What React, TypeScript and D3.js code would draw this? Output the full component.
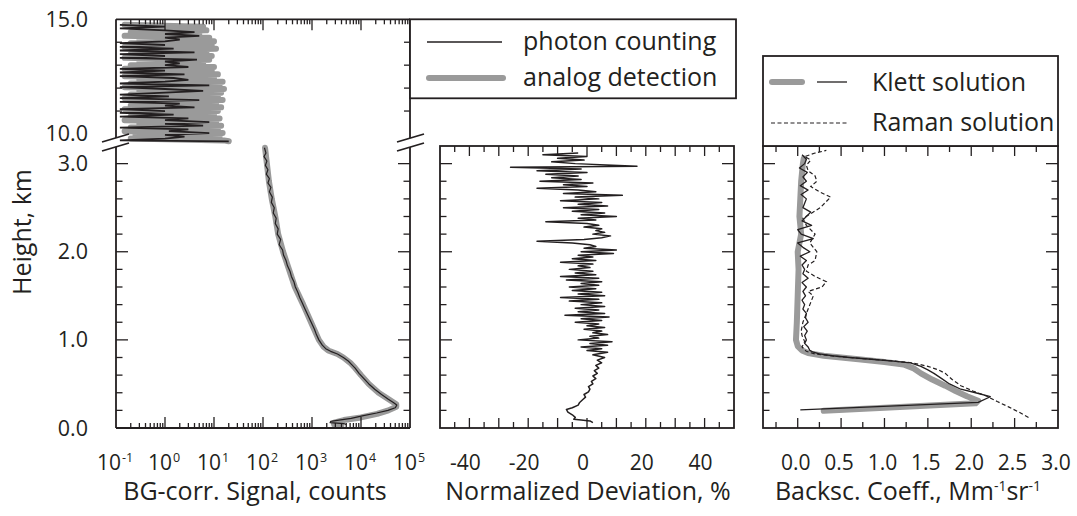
import React from 'react';
import * as d3 from 'd3';

const INK = '#231f20';
const GRAY = '#9a9a9a';
const FONT = '"Open Sans", "Noto Sans", sans-serif';

// ---------- Panel 1: background-corrected signal (counts) ----------
// upper part (9.7 - 15 km), heights in km
const UPPER_H = [14.76, 14.68, 14.6, 14.52, 14.44, 14.36, 14.28, 14.2, 14.12, 14.04, 13.96, 13.88, 13.8, 13.72, 13.64, 13.56, 13.48, 13.4, 13.32, 13.24, 13.16, 13.08, 13.0, 12.92, 12.84, 12.76, 12.68, 12.6, 12.52, 12.44, 12.36, 12.28, 12.2, 12.12, 12.04, 11.96, 11.88, 11.8, 11.72, 11.64, 11.56, 11.48, 11.4, 11.32, 11.24, 11.16, 11.08, 11.0, 10.92, 10.84, 10.76, 10.68, 10.6, 10.52, 10.44, 10.36, 10.28, 10.2, 10.12, 10.04, 9.96, 9.88, 9.8, 9.72, 9.68];
const UPPER_PHOTON = [0.12, 1, 0.12, 1, 4, 1, 5, 1, 2, 1, 0.12, 1, 0.12, 1.5, 0.12, 4, 0.12, 1, 0.12, 4.5, 1, 2, 1, 3, 0.12, 1, 0.12, 2.5, 0.12, 1.5, 3, 1, 0.12, 8, 0.12, 1, 6, 1, 0.12, 1.2, 0.12, 5, 0.12, 2, 1, 4, 0.12, 1, 0.12, 1.5, 0.12, 3, 1, 8, 1, 6, 0.12, 3, 1.2, 8, 1, 2.5, 1, 0.12, 20];
const UPPER_ANALOG = [0.15, 6, 0.3, 7, 0.2, 5, 0.15, 8, 0.3, 10, 0.2, 9, 0.15, 11, 0.3, 7, 0.2, 9, 0.15, 8, 0.3, 6, 0.2, 10, 0.15, 9, 0.25, 12, 0.15, 10, 0.3, 15, 0.2, 13, 0.15, 16, 0.3, 14, 0.2, 12, 0.15, 15, 0.25, 11, 0.2, 14, 0.15, 12, 0.3, 10, 0.2, 13, 0.15, 11, 0.3, 14, 0.2, 12, 0.15, 15, 0.25, 13, 0.2, 16, 20];

// lower part (0 - 3.2 km)
const LOWER_PHOTON_H = [3.18, 3.12, 3.08, 3.03, 2.98, 2.93, 2.88, 2.83, 2.78, 2.73, 2.68, 2.62, 2.56, 2.5, 2.44, 2.38, 2.32, 2.26, 2.2, 2.14, 2.08, 2.02, 1.96, 1.9, 1.84, 1.78, 1.72, 1.66, 1.6, 1.54, 1.48, 1.42, 1.36, 1.3, 1.24, 1.18, 1.12, 1.06, 1.0, 0.94, 0.9, 0.87, 0.84, 0.8, 0.76, 0.72, 0.68, 0.62, 0.56, 0.5, 0.44, 0.38, 0.33, 0.29, 0.26, 0.23, 0.2, 0.17, 0.14, 0.11, 0.09, 0.075, 0.06, 0.05, 0.04];
const LOWER_PHOTON = [107, 115, 105, 120, 112, 126, 117, 135, 126, 145, 135, 155, 148, 170, 162, 186, 178, 204, 195, 229, 214, 251, 263, 295, 316, 355, 380, 427, 457, 513, 562, 631, 708, 794, 891, 1000, 1122, 1230, 1380, 1622, 1905, 2399, 3311, 4365, 5495, 6457, 7586, 9120, 11480, 14450, 19050, 26300, 35480, 45710, 53700, 50100, 35480, 20900, 11220, 6310, 3550, 2400, 2340, 4470, 5010];
const LOWER_ANALOG_H = [3.18, 3.0, 2.8, 2.6, 2.4, 2.2, 2.0, 1.8, 1.6, 1.4, 1.2, 1.0, 0.92, 0.88, 0.84, 0.8, 0.74, 0.68, 0.6, 0.5, 0.4, 0.32, 0.27, 0.24, 0.2, 0.16, 0.12, 0.09, 0.06, 0.04, 0.025];
const LOWER_ANALOG = [110, 120, 132, 151, 178, 204, 257, 339, 447, 661, 955, 1380, 1740, 2140, 3310, 4370, 6030, 7590, 10000, 14450, 22900, 38000, 52500, 52500, 36300, 21400, 10000, 4470, 2820, 2820, 3980];

// ---------- Panel 2: normalized deviation (%) ----------
const DEV_H = [0.06, 0.08, 0.09, 0.1, 0.12, 0.15, 0.18, 0.21, 0.23, 0.26, 0.29, 0.32, 0.35, 0.38, 0.41, 0.44, 0.47, 0.5, 0.53, 0.56, 0.59, 0.62, 0.65, 0.68, 0.71, 0.74, 0.77, 0.8, 0.83, 0.86, 0.88, 0.9, 0.92, 0.94, 0.96, 0.98, 1.0, 1.02, 1.04, 1.06, 1.08, 1.1, 1.12, 1.14, 1.16, 1.18, 1.2, 1.22, 1.24, 1.26, 1.28, 1.3, 1.32, 1.34, 1.36, 1.38, 1.4, 1.42, 1.44, 1.46, 1.48, 1.5, 1.52, 1.54, 1.56, 1.58, 1.6, 1.62, 1.64, 1.66, 1.68, 1.7, 1.72, 1.74, 1.76, 1.78, 1.8, 1.82, 1.84, 1.86, 1.88, 1.9, 1.92, 1.94, 1.96, 1.98, 2.0, 2.02, 2.04, 2.06, 2.08, 2.1, 2.12, 2.14, 2.16, 2.18, 2.2, 2.22, 2.24, 2.26, 2.28, 2.3, 2.32, 2.34, 2.36, 2.38, 2.4, 2.42, 2.44, 2.46, 2.48, 2.5, 2.52, 2.54, 2.56, 2.58, 2.6, 2.62, 2.64, 2.66, 2.68, 2.7, 2.72, 2.74, 2.76, 2.78, 2.8, 2.82, 2.84, 2.86, 2.88, 2.9, 2.92, 2.94, 2.96, 2.97, 3.0, 3.02, 3.04, 3.06, 3.08, 3.1, 3.12];
const DEV_VAL = [2, 1, -2, -4.5, -4, -5, -6.5, -7, -5, -3, -2.5, -1.5, -0.5, -1, 0.5, 1, 0.5, 2, 1.5, 3, 2, 3.5, 2.5, 4, 3, 5, 3.5, 6, 2, 7, 0, 5, -2, 7, 1, 8.5, -3, 4, 1, 7, 2, 5, -1, 6, 0, 4, -4, 5, -2, 7.5, -7.5, 6, -3, 4, -4, 6, -2, 5, -6, 4, -9, 6, -3, 5, -5, 3, -6, 4, -2, 5, -7, 4, -9, 3, -4, 2, -6, 1, -3, 2, -9, 3, -5, 2, -3, 9, -2, 10, -1, 3, 1, -5, -17, -1, 5, 8, 2, 6, 3, 5, -1, 4, 0, -14, 3, -3, 10, -2, 6, -5, 4, -8, 7, -3, 5, -9, 4, -4, 12, -8, 3, -3, -17, 0, -8, 2, -16, -2, -12, -3, -14, 0, -17, -2, -26, 17, -4, -12, -1, -10, 0, -15, -3];

// ---------- Panel 3: backscatter coefficient (Mm^-1 sr^-1) ----------
const KLETT_AN_H = [0.195, 0.28, 0.31, 0.36, 0.42, 0.48, 0.55, 0.62, 0.68, 0.72, 0.75, 0.78, 0.8, 0.82, 0.85, 0.88, 0.93, 1.0, 1.2, 1.5, 1.8, 2.0, 2.2, 2.4, 2.6, 2.8, 3.0, 3.06];
const KLETT_AN = [0.3, 2.05, 2.08, 1.95, 1.82, 1.7, 1.55, 1.42, 1.33, 1.22, 1.0, 0.7, 0.5, 0.3, 0.12, 0.05, 0.0, -0.02, -0.01, 0.0, 0.01, 0.0, 0.04, 0.02, 0.03, 0.04, 0.06, 0.07];
const KLETT_PC_H = [0.205, 0.29, 0.355, 0.4, 0.44, 0.5, 0.56, 0.62, 0.66, 0.7, 0.74, 0.76, 0.78, 0.8, 0.82, 0.84, 0.86, 0.88, 0.92, 0.96, 1.0, 1.05, 1.1, 1.15, 1.2, 1.25, 1.3, 1.35, 1.4, 1.45, 1.5, 1.55, 1.6, 1.65, 1.7, 1.75, 1.8, 1.85, 1.9, 1.95, 2.0, 2.05, 2.1, 2.15, 2.2, 2.25, 2.3, 2.35, 2.4, 2.45, 2.5, 2.55, 2.6, 2.65, 2.7, 2.75, 2.8, 2.85, 2.9, 2.95, 3.0, 3.05, 3.1];
const KLETT_PC = [0.03, 2.08, 2.22, 2.05, 1.88, 1.75, 1.66, 1.57, 1.5, 1.42, 1.3, 1.1, 0.85, 0.6, 0.4, 0.25, 0.18, 0.14, 0.12, 0.08, 0.1, 0.08, 0.11, 0.07, 0.12, 0.09, 0.1, 0.06, 0.08, 0.05, 0.09, 0.06, 0.1, 0.05, 0.12, 0.06, 0.08, 0.05, 0.1, 0.03, 0.14, 0.06, 0.0, 0.18, 0.04, 0.0, 0.16, 0.05, 0.1, 0.15, 0.06, 0.08, 0.1, 0.04, 0.12, 0.03, 0.1, 0.06, 0.11, 0.02, 0.08, 0.1, 0.05];
const RAMAN_H = [0.12, 0.18, 0.24, 0.3, 0.36, 0.42, 0.48, 0.55, 0.62, 0.66, 0.7, 0.74, 0.76, 0.78, 0.8, 0.82, 0.84, 0.87, 0.92, 0.98, 1.05, 1.1, 1.2, 1.3, 1.4, 1.5, 1.55, 1.6, 1.66, 1.72, 1.78, 1.85, 1.9, 2.0, 2.1, 2.2, 2.3, 2.38, 2.45, 2.5, 2.56, 2.62, 2.68, 2.74, 2.8, 2.86, 2.92, 2.98, 3.04, 3.08, 3.12, 3.15];
const RAMAN = [2.66, 2.55, 2.43, 2.3, 2.18, 2.02, 1.88, 1.78, 1.7, 1.62, 1.5, 1.32, 1.1, 0.85, 0.6, 0.38, 0.2, 0.1, 0.05, 0.08, 0.05, 0.04, 0.06, 0.1, 0.14, 0.18, 0.12, 0.28, 0.33, 0.2, 0.1, 0.12, 0.2, 0.22, 0.14, 0.2, 0.1, 0.06, 0.18, 0.26, 0.32, 0.38, 0.25, 0.15, 0.22, 0.2, 0.12, 0.1, 0.15, 0.08, 0.2, 0.33];

// ---------- tick labels ----------
const SIG_EXP = [-1, 0, 1, 2, 3, 4, 5];
const DEV_TICKS = [-40, -20, 0, 20, 40];
const BETA_TICKS = [0, 0.5, 1.0, 1.5, 2.0, 2.5, 3.0];
const H_LOW_LABELS = [0, 1, 2, 3];
const H_UP_LABELS = [10, 15];

const zip = (h: number[], v: number[]) => h.map((hh, i) => [hh, v[i]] as [number, number]).filter((d) => d[1] !== undefined);

export default function App() {
  const xSig = d3.scaleLog().domain([0.1, 1e5]).range([116, 410]);
  const yLow = d3.scaleLinear().domain([0, 3.2]).range([428, 146]);
  const yUp = d3.scaleLinear().domain([9.65, 15]).range([142, 19.3]);
  const xDev = d3.scaleLinear().domain([-50, 50]).range([440, 734]);
  const xBeta = d3.scaleLinear().domain([-0.4, 3.0]).range([763, 1058]);

  const sigLineLow = d3.line<[number, number]>().x((d) => xSig(d[1])).y((d) => yLow(d[0]));
  const sigLineUp = d3.line<[number, number]>().x((d) => xSig(d[1])).y((d) => yUp(d[0]));
  const devLine = d3.line<[number, number]>().x((d) => xDev(d[1])).y((d) => yLow(d[0]));
  const betaLine = d3.line<[number, number]>().x((d) => xBeta(d[1])).y((d) => yLow(d[0]));

  const fw = 1.8;
  const tw = 1.3;
  const P = { l1: 116, r1: 410, l2: 440, r2: 734, l3: 763, r3: 1058, top: 146, bot: 428, top1: 19.3 };

  const ticks: JSX.Element[] = [];
  let k = 0;
  const tick = (x1: number, y1: number, x2: number, y2: number) => {
    ticks.push(<line key={'t' + k++} x1={x1} y1={y1} x2={x2} y2={y2} stroke={INK} strokeWidth={tw} />);
  };

  // panel 1 log ticks (top and bottom)
  for (let e = -1; e <= 4; e++) {
    for (let m = 1; m <= 9; m++) {
      const v = m * Math.pow(10, e);
      if (v <= 0.1 || v >= 1e5) continue;
      const x = xSig(v);
      const len = m === 1 ? 11 : 5;
      tick(x, P.bot, x, P.bot - len);
      tick(x, P.top1, x, P.top1 + len);
    }
  }
  // height ticks for lower part (all panels)
  const hTicks = d3.range(0, 3.21, 0.2).map((v) => Math.round(v * 10) / 10);
  hTicks.forEach((h) => {
    if (h === 0) return;
    const y = yLow(h);
    const len = Math.abs(h - Math.round(h)) < 1e-6 ? 12 : 6.5;
    if (h <= 3.0) {
      [[P.l1, P.r1], [P.l2, P.r2], [P.l3, P.r3]].forEach(([l, r]) => {
        tick(l, y, l + len, y);
        tick(r, y, r - len, y);
      });
    }
  });
  // upper part ticks
  [11, 12, 13, 14].forEach((h) => {
    const y = yUp(h);
    tick(P.l1, y, P.l1 + 6, y);
    tick(P.r1, y, P.r1 - 6, y);
  });
  // deviation ticks
  for (let v = -45; v <= 45; v += 5) {
    const x = xDev(v);
    const len = v % 10 === 0 ? 10 : 6;
    tick(x, P.bot, x, P.bot - len);
    tick(x, P.top, x, P.top + len);
  }
  // beta ticks
  for (let i = -1; i <= 11; i++) {
    const v = i * 0.25;
    const x = xBeta(v);
    const len = i % 2 === 0 ? 10 : 6;
    tick(x, P.bot, x, P.bot - len);
    tick(x, P.top, x, P.top + len);
  }

  const txt = { fontFamily: FONT, fill: INK } as const;
  const TL = 21; // tick label font size

  return (
    <svg width={1077} height={516} style={{ position: 'absolute', left: 0, top: 0, background: '#fff' }}>
      <rect x={0} y={0} width={1077} height={516} fill="#fff" />

      {/* ---- Panel 1 data ---- */}
      <path d={sigLineUp(zip(UPPER_H, UPPER_ANALOG)) || ''} fill="none" stroke={GRAY} strokeWidth={6} strokeLinecap="round" strokeLinejoin="round" />
      <path d={sigLineUp(zip(UPPER_H, UPPER_PHOTON)) || ''} fill="none" stroke={INK} strokeWidth={1.8} strokeLinejoin="miter" strokeMiterlimit={2} />
      <path d={sigLineLow(zip(LOWER_ANALOG_H, LOWER_ANALOG)) || ''} fill="none" stroke={GRAY} strokeWidth={6} strokeLinecap="round" strokeLinejoin="round" />
      <path d={sigLineLow(zip(LOWER_PHOTON_H, LOWER_PHOTON)) || ''} fill="none" stroke={INK} strokeWidth={1.2} strokeLinejoin="round" />

      {/* ---- Panel 2 data ---- */}
      <path d={devLine(zip(DEV_H, DEV_VAL)) || ''} fill="none" stroke={INK} strokeWidth={1.5} strokeLinejoin="round" />

      {/* ---- Panel 3 data ---- */}
      <path d={betaLine(zip(KLETT_AN_H, KLETT_AN)) || ''} fill="none" stroke={GRAY} strokeWidth={6} strokeLinecap="round" strokeLinejoin="round" />
      <path d={betaLine(zip(KLETT_PC_H, KLETT_PC)) || ''} fill="none" stroke={INK} strokeWidth={1.3} strokeLinejoin="round" />
      <path d={betaLine(zip(RAMAN_H, RAMAN)) || ''} fill="none" stroke={INK} strokeWidth={1.2} strokeDasharray="4,2.5" />

      {ticks}

      {/* ---- Frames ---- */}
      <g stroke={INK} strokeWidth={fw} fill="none">
        <line x1={P.l1} y1={P.top1} x2={P.r1} y2={P.top1} />
        <line x1={P.l1} y1={P.bot} x2={P.r1} y2={P.bot} />
        <line x1={P.l1} y1={P.top1} x2={P.l1} y2={138} />
        <line x1={P.l1} y1={147} x2={P.l1} y2={P.bot} />
        <line x1={P.r1} y1={P.top1} x2={P.r1} y2={138} />
        <line x1={P.r1} y1={147} x2={P.r1} y2={P.bot} />
        <line x1={102} y1={142} x2={129} y2={134} />
        <line x1={102} y1={151} x2={129} y2={143} />
        <line x1={397} y1={142} x2={424} y2={134} />
        <line x1={397} y1={151} x2={424} y2={143} />
        <rect x={P.l2} y={P.top} width={P.r2 - P.l2} height={P.bot - P.top} />
        <rect x={P.l3} y={P.top} width={P.r3 - P.l3} height={P.bot - P.top} />
      </g>

      {/* ---- Legend 1 ---- */}
      <rect x={P.r1} y={P.top1} width={326} height={79} fill="#fff" stroke={INK} strokeWidth={fw} />
      <line x1={427} y1={42} x2={502} y2={42} stroke={INK} strokeWidth={1.3} />
      <line x1={429} y1={78} x2={503} y2={78} stroke={GRAY} strokeWidth={6} strokeLinecap="round" />
      <text x={523} y={50} fontSize={25} {...txt}>photon counting</text>
      <text x={523} y={86} fontSize={25} {...txt}>analog detection</text>

      {/* ---- Legend 2 ---- */}
      <rect x={P.l3} y={56} width={P.r3 - P.l3} height={P.top - 56} fill="#fff" stroke={INK} strokeWidth={fw} />
      <line x1={772} y1={82} x2={802} y2={82} stroke={GRAY} strokeWidth={6} strokeLinecap="round" />
      <line x1={817} y1={82} x2={847} y2={82} stroke={INK} strokeWidth={1.3} />
      <line x1={771} y1={123} x2={847} y2={123} stroke={INK} strokeWidth={1.2} strokeDasharray="4,2.5" />
      <text x={872} y={91} fontSize={25} {...txt}>Klett solution</text>
      <text x={872} y={131} fontSize={25} {...txt}>Raman solution</text>

      {/* ---- Y tick labels ---- */}
      {H_UP_LABELS.map((h) => (
        <text key={'hu' + h} x={88} y={yUp(h) + 7.5} fontSize={21.5} textAnchor="end" {...txt}>{h.toFixed(1)}</text>
      ))}
      {H_LOW_LABELS.map((h) => (
        <text key={'hl' + h} x={88} y={yLow(h) + 7.5} fontSize={21.5} textAnchor="end" {...txt}>{h.toFixed(1)}</text>
      ))}
      <text transform={`translate(31, 232) rotate(-90)`} fontSize={25} textAnchor="middle" {...txt}>Height, km</text>

      {/* ---- X tick labels ---- */}
      {SIG_EXP.map((e) => (
        <text key={'se' + e} x={xSig(Math.pow(10, e)) - 1} y={470} fontSize={TL} textAnchor="middle" {...txt}>
          10<tspan dx={1} dy={-8} fontSize={12.5}>{e}</tspan>
        </text>
      ))}
      {DEV_TICKS.map((v) => (
        <text key={'dv' + v} x={xDev(v) - 4} y={470} fontSize={TL} textAnchor="middle" {...txt}>{v}</text>
      ))}
      {BETA_TICKS.map((v) => (
        <text key={'bt' + v} x={xBeta(v) - 2} y={470} fontSize={TL} textAnchor="middle" {...txt}>{v.toFixed(1)}</text>
      ))}

      {/* ---- Axis titles ---- */}
      <text x={255} y={500} fontSize={25} textAnchor="middle" {...txt}>BG-corr. Signal, counts</text>
      <text x={588} y={500} fontSize={25} textAnchor="middle" {...txt}>Normalized Deviation, %</text>
      <text x={908} y={500} fontSize={25} textAnchor="middle" {...txt}>
        Backsc. Coeff., Mm<tspan dy={-9} fontSize={14}>-1</tspan><tspan dy={9}>sr</tspan><tspan dy={-9} fontSize={14}>-1</tspan>
      </text>
    </svg>
  );
}
